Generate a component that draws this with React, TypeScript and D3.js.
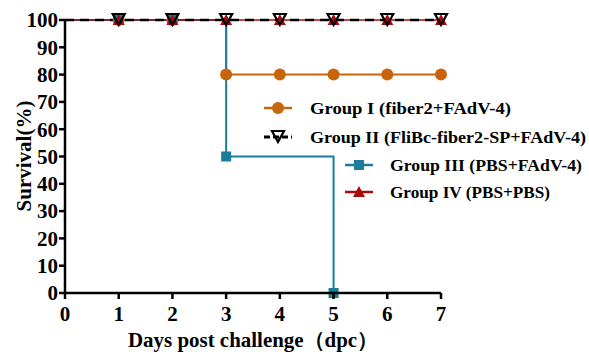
import React from "react";
import * as d3 from "d3";

const W = 589;
const H = 354;

const xTicks = [0, 1, 2, 3, 4, 5, 6, 7];
const yTicks = [0, 10, 20, 30, 40, 50, 60, 70, 80, 90, 100];

const g1Days = [0, 1, 2, 3, 4, 5, 6, 7];
const g1Surv = [100, 100, 100, 80, 80, 80, 80, 80];
const g2Days = [0, 1, 2, 3, 4, 5, 6, 7];
const g2Surv = [100, 100, 100, 100, 100, 100, 100, 100];
const g3Days = [0, 1, 2, 3, 5];
const g3Surv = [100, 100, 100, 50, 0];
const g4Days = [0, 1, 2, 3, 4, 5, 6, 7];
const g4Surv = [100, 100, 100, 100, 100, 100, 100, 100];

const labels = [
  "Group  I (fiber2+FAdV-4)",
  "Group II (FliBc-fiber2-SP+FAdV-4)",
  "Group III (PBS+FAdV-4)",
  "Group IV (PBS+PBS)",
];

const ORANGE = "#c8650c";
const TEAL = "#1a7d9c";
const RED = "#a80a0a";
const BLACK = "#000";
const FONT = "Liberation Serif";

const x = d3.scaleLinear().domain([0, 7]).range([65, 441]);
const y = d3.scaleLinear().domain([0, 100]).range([293, 20]);

const zip = (d: number[], s: number[]) => d.map((v, i) => [v, s[i]] as [number, number]);

const line = d3
  .line<[number, number]>()
  .x((p) => x(p[0]))
  .y((p) => y(p[1]))
  .curve(d3.curveStepAfter);

const circle = (cx: number, cy: number, k: string) => (
  <circle key={k} cx={cx} cy={cy} r={6} fill={ORANGE} />
);
const square = (cx: number, cy: number, k: string) => (
  <rect key={k} x={cx - 5} y={cy - 5} width={10} height={10} fill={TEAL} />
);
const tri = (cx: number, cy: number, k: string) => (
  <path key={k} d={`M${cx - 6},${cy + 5} L${cx + 6},${cy + 5} L${cx},${cy - 6} Z`} fill={RED} />
);
const invTri = (cx: number, cy: number, k: string) => (
  <path
    key={k}
    d={`M${cx - 6},${cy - 6} L${cx + 6},${cy - 6} L${cx},${cy + 5} Z`}
    fill="none"
    stroke={BLACK}
    strokeWidth={2.2}
  />
);

const txt = { fontFamily: FONT, fontWeight: "bold" as const };

export default function App() {
  const g1 = zip(g1Days, g1Surv);
  const g2 = zip(g2Days, g2Surv);
  const g3 = zip(g3Days, g3Surv);
  const g4 = zip(g4Days, g4Surv);

  const legend = [
    { lx: 264, ly: 108, tx: 310, len: 201, color: ORANGE, mark: circle, dash: undefined },
    { lx: 264, ly: 137, tx: 310, len: 276, color: BLACK, mark: invTri, dash: "6 3" },
    { lx: 345, ly: 165, tx: 390, len: 192, color: TEAL, mark: square, dash: undefined },
    { lx: 345, ly: 192, tx: 390, len: 160, color: RED, mark: tri, dash: undefined },
  ];

  return (
    <svg width={W} height={H} style={{ display: "block", position: "absolute", left: 0, top: 0, background: "#fff" }}>
      {/* series lines */}
      <path d={line(g1) || ""} fill="none" stroke={ORANGE} strokeWidth={2} />
      <path d={line(g3) || ""} fill="none" stroke={TEAL} strokeWidth={2} />
      <path d={line(g4) || ""} fill="none" stroke={RED} strokeWidth={1.5} />
      <path d={line(g2) || ""} fill="none" stroke={BLACK} strokeWidth={2.5} strokeDasharray="9 6" />

      {/* markers */}
      {g1.slice(1).map((p, i) => circle(x(p[0]), y(p[1]), "c" + i))}
      {g3.slice(1).map((p, i) => square(x(p[0]), y(p[1]), "s" + i))}
      {g4.slice(1).map((p, i) => tri(x(p[0]), y(p[1]), "t" + i))}
      {g2.slice(1).map((p, i) => invTri(x(p[0]), y(p[1]), "v" + i))}

      {/* axes */}
      <line x1={x(0)} x2={x(7)} y1={y(0)} y2={y(0)} stroke={BLACK} strokeWidth={2.5} />
      <line x1={x(0)} x2={x(0)} y1={y(0) + 1} y2={y(100)} stroke={BLACK} strokeWidth={2.5} />
      {xTicks.map((t) => (
        <g key={"xt" + t}>
          <line x1={x(t)} x2={x(t)} y1={y(0)} y2={y(0) + 6} stroke={BLACK} strokeWidth={2.5} />
          <text x={x(t)} y={321} textAnchor="middle" style={{ ...txt, fontSize: 21 }}>
            {t}
          </text>
        </g>
      ))}
      {yTicks.map((t) => (
        <g key={"yt" + t}>
          <line x1={x(0) - 6} x2={x(0)} y1={y(t)} y2={y(t)} stroke={BLACK} strokeWidth={2.5} />
          <text x={58} y={y(t)} dy="0.35em" textAnchor="end" style={{ ...txt, fontSize: 21 }}>
            {t}
          </text>
        </g>
      ))}

      <text x={128} y={347} textLength={250} lengthAdjust="spacingAndGlyphs" style={{ ...txt, fontSize: 21 }}>
        Days post challenge（dpc）
      </text>
      <text
        transform={`translate(31,156) rotate(-90)`}
        textAnchor="middle"
        style={{ ...txt, fontSize: 21 }}
      >
        Survival(%)
      </text>

      {/* legend */}
      {legend.map((l, i) => (
        <g key={"lg" + i}>
          <line
            x1={l.lx}
            x2={l.lx + 28}
            y1={l.ly}
            y2={l.ly}
            stroke={l.color}
            strokeWidth={l.dash ? 3 : 2.5}
            strokeDasharray={l.dash}
          />
          {l.mark(l.lx + 14, l.ly, "lm" + i)}
          <text
            x={l.tx}
            y={l.ly}
            dy="0.35em"
            textLength={l.len}
            lengthAdjust="spacingAndGlyphs"
            style={{ ...txt, fontSize: 17.5 }}
          >
            {labels[i]}
          </text>
        </g>
      ))}
    </svg>
  );
}
